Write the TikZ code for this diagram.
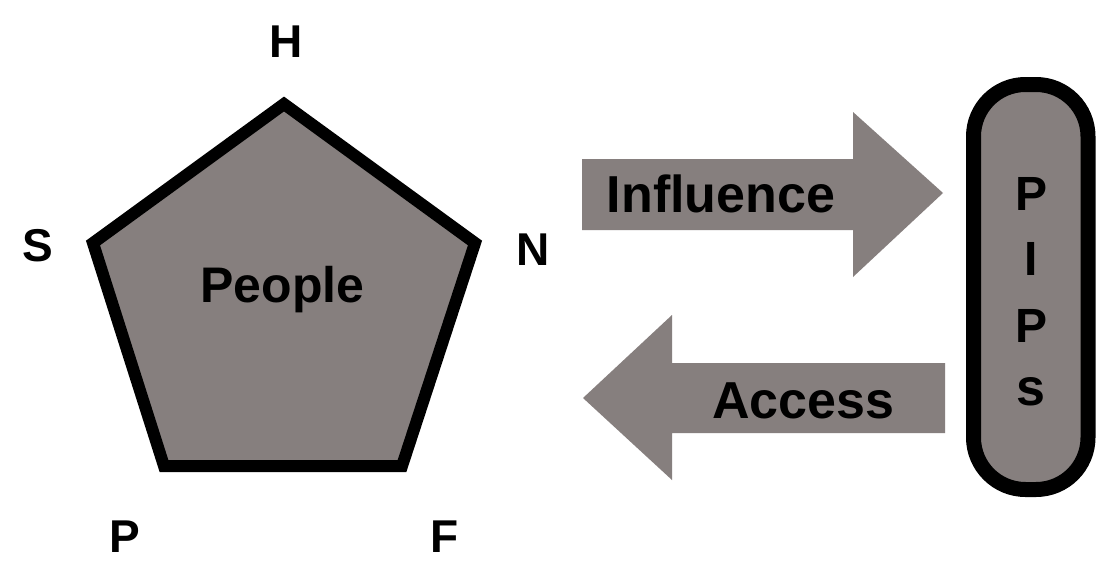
\documentclass[tikz,border=0pt]{standalone}
\usepackage{fontspec}
\setmainfont{Liberation Sans}
\definecolor{shapegray}{RGB}{134,127,126}
\begin{document}
\begin{tikzpicture}[x=1pt,y=-1pt,
  lbl/.style={anchor=base,inner sep=0pt,font=\bfseries\fontsize{46}{50}\selectfont},
  biglbl/.style={anchor=base,inner sep=0pt,font=\bfseries\fontsize{52}{56}\selectfont},
  boxlbl/.style={anchor=base,inner sep=0pt,font=\bfseries\fontsize{48}{52}\selectfont},
  blockarrow/.style={fill=shapegray,draw=none},
  outline/.style={fill=shapegray,draw=black,line join=miter}]
\useasboundingbox[fill=white] (0,0) rectangle (1109,571);

% pentagon
\coordinate (vH) at (284,104);
\coordinate (vN) at (475,243);
\coordinate (vF) at (402,466);
\coordinate (vP) at (164,466);
\coordinate (vS) at (93,243);
\draw[outline,line width=12pt] (vH) -- (vN) -- (vF) -- (vP) -- (vS) -- cycle;
\node[lbl,font=\bfseries\fontsize{50}{54}\selectfont] (people) at (282.5,302) {People};

% corner letters
\node[lbl] (lH) at (286,57) {H};
\node[lbl] (lS) at (38,261) {S};
\node[lbl] (lN) at (533,265) {N};
\node[lbl] (lP) at (125,552) {P};
\node[lbl] (lF) at (444.5,552) {F};

% influence arrow
\fill[blockarrow] (582,159) -- (853,159) -- (853,112) -- (943,193)
  -- (853,277) -- (853,230) -- (582,230) -- cycle;
\node[biglbl] (influence) at (721,212) {Influence};

% access arrow
\fill[blockarrow] (945,363) -- (672,363) -- (672,315) -- (583,398)
  -- (672,480) -- (672,433) -- (945,433) -- cycle;
\node[biglbl] (access) at (803.5,418) {Access};

% PIPs box
\draw[fill=shapegray,draw=black,line width=15pt,rounded corners=52pt]
  (973.5,84.5) rectangle (1088,489.5);
\node[boxlbl] (p1) at (1031,210) {P};
\node[boxlbl] (i1) at (1031,275) {I};
\node[boxlbl] (p2) at (1031,342) {P};
\node[boxlbl,font=\bfseries\fontsize{52}{56}\selectfont] (s1) at (1031,405) {s};
\end{tikzpicture}
\end{document}
